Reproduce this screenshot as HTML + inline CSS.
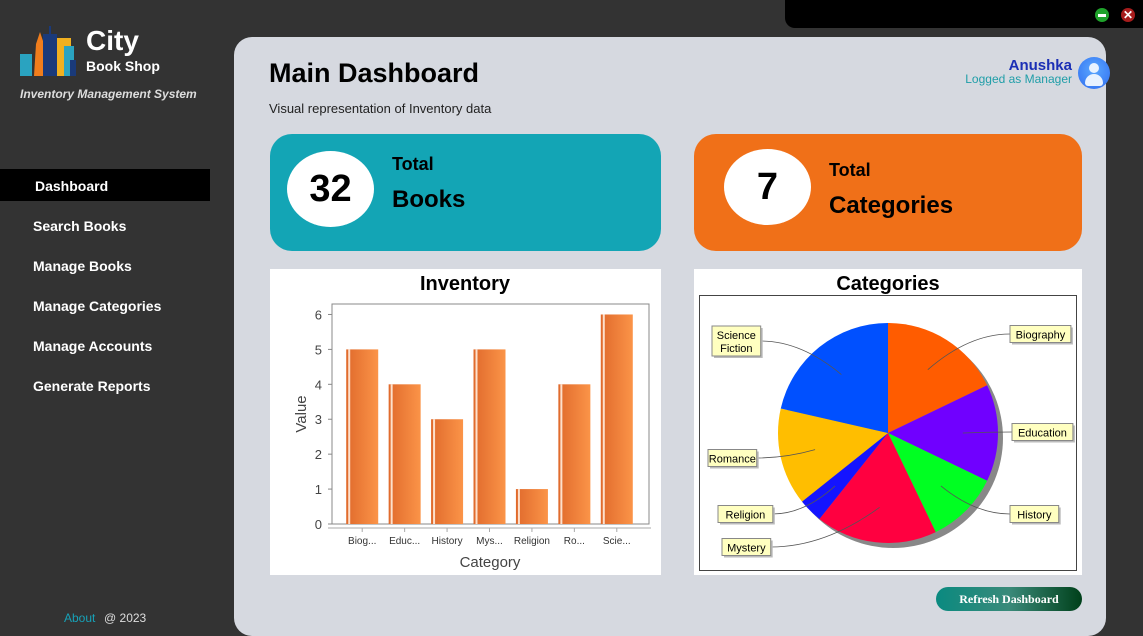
<!DOCTYPE html>
<html><head><meta charset="utf-8">
<style>
*{margin:0;padding:0;box-sizing:border-box}
body{width:1143px;height:636px;background:#333;font-family:"Liberation Sans",sans-serif;position:relative;overflow:hidden}
.abs{position:absolute}
.nav{position:absolute;left:33px;color:#fff;font-weight:bold;font-size:14px}
.card{position:absolute;border-radius:22px}
.circ{position:absolute;background:#fff;border-radius:50%;display:flex;align-items:center;justify-content:center;font-weight:900;color:#000}
</style></head><body>
<div class="abs" style="left:785px;top:0;width:358px;height:28px;background:#000;border-bottom-left-radius:10px"></div>
<div class="abs" style="left:1095px;top:8px;width:14px;height:14px;border-radius:50%;background:#1fa22b"><div style="position:absolute;left:3px;top:5.5px;width:8px;height:3px;background:#fff"></div></div>
<div class="abs" style="left:1121px;top:8px;width:14px;height:14px;border-radius:50%;background:#a61c1c;color:#fff;font-size:12px;font-weight:bold;line-height:14px;text-align:center">✕</div>

<svg class="abs" style="left:18px;top:24px" width="60" height="54">
<rect x="2" y="30" width="12" height="22" fill="#2aa3c0"/><polygon points="16,52 18,20 22,8 26,20 28,52" fill="#f07d1c"/>
<rect x="25" y="10" width="14" height="42" fill="#1a3a7a"/><rect x="31" y="2" width="2" height="8" fill="#1a3a7a"/>
<rect x="39" y="14" width="14" height="38" fill="#f0b020"/><rect x="46" y="22" width="10" height="30" fill="#2aa3c0"/><rect x="52" y="36" width="6" height="16" fill="#1a3a7a"/></svg>
<div class="abs" style="left:86px;top:25px;color:#fff;font-weight:900;font-size:28px">City</div>
<div class="abs" style="left:86px;top:58px;color:#fff;font-weight:900;font-size:14px">Book Shop</div>
<div class="abs" style="left:20px;top:87px;color:#ddd;font-style:italic;font-weight:bold;font-size:12px">Inventory Management System</div>

<div class="abs" style="left:0;top:169px;width:210px;height:32px;background:#000"></div>
<div class="nav" style="top:178px;left:35px">Dashboard</div>
<div class="nav" style="top:218px">Search Books</div>
<div class="nav" style="top:258px">Manage Books</div>
<div class="nav" style="top:298px">Manage Categories</div>
<div class="nav" style="top:338px">Manage Accounts</div>
<div class="nav" style="top:378px">Generate Reports</div>
<div class="abs" style="left:64px;top:611px;color:#17a2b8;font-size:12px">About</div>
<div class="abs" style="left:104px;top:611px;color:#ddd;font-size:12px">@ 2023</div>

<div class="abs" style="left:234px;top:37px;width:872px;height:599px;background:#d6d9e0;border-radius:18px"></div>
<div class="abs" style="left:269px;top:58px;font-size:27px;font-weight:bold;color:#000">Main Dashboard</div>
<div class="abs" style="left:269px;top:101px;font-size:13px;color:#222">Visual representation of Inventory data</div>
<div class="abs" style="right:71px;top:57px;font-size:15px;font-weight:bold;color:#1b2fb5">Anushka</div>
<div class="abs" style="right:71px;top:72px;font-size:12px;color:#1f9ea8">Logged as Manager</div>
<div class="abs" style="left:1078px;top:57px;width:32px;height:32px;border-radius:50%;background:radial-gradient(circle at 50% 40%,#5aa8ff,#2f6cf0);overflow:hidden">
<div style="position:absolute;left:11px;top:6px;width:10px;height:10px;border-radius:50%;background:#e8f2ff"></div><div style="position:absolute;left:7px;top:17px;width:18px;height:12px;border-radius:9px 9px 3px 3px;background:#e8f2ff"></div></div>

<div class="card" style="left:270px;top:134px;width:391px;height:117px;background:#13a5b5"></div>
<div class="circ" style="left:287px;top:151px;width:87px;height:76px;font-size:38px">32</div>
<div class="abs" style="left:392px;top:154px;font-size:18px;font-weight:900">Total</div>
<div class="abs" style="left:392px;top:186px;font-size:24px;font-weight:900">Books</div>
<div class="card" style="left:694px;top:134px;width:388px;height:117px;background:#f07018"></div>
<div class="circ" style="left:724px;top:149px;width:87px;height:76px;font-size:38px">7</div>
<div class="abs" style="left:829px;top:160px;font-size:18px;font-weight:900">Total</div>
<div class="abs" style="left:829px;top:192px;font-size:24px;font-weight:900">Categories</div>

<svg class="abs" id="bar" style="left:270px;top:269px" width="391" height="306"></svg>
<svg class="abs" id="pie" style="left:694px;top:269px" width="388" height="306"></svg>

<div class="abs" style="left:936px;top:587px;width:146px;height:24px;border-radius:12px;background:linear-gradient(90deg,#0a8a80,#3a8a7a 50%,#00401a);color:#fff;font-weight:bold;font-size:12px;text-align:center;line-height:24px;font-family:'Liberation Serif',serif">Refresh Dashboard</div>

<script>
const categories=["Biography","Education","History","Mystery","Religion","Romance","Science Fiction"];
const tickLabels=["Biog...","Educ...","History","Mys...","Religion","Ro...","Scie..."];
const values=[5,4,3,5,1,4,6];
const yTicks=[0,1,2,3,4,5,6];
const NS="http://www.w3.org/2000/svg";
function mk(p,t,a,txt){const e=document.createElementNS(NS,t);for(const k in a)e.setAttribute(k,a[k]);if(txt!==undefined)e.textContent=txt;p.appendChild(e);return e;}
// bar chart
const bar=document.getElementById('bar');
mk(bar,'rect',{x:0,y:0,width:391,height:306,fill:'#fff'});
const t=mk(bar,'text',{x:195,y:21,'text-anchor':'middle','font-size':20,'font-weight':'bold',fill:'#000'},'Inventory');

const px0=62,px1=379,py0=255,py1=35,ymax=6.3;
const y=v=>py0-(v/ymax)*(py0-py1);
const bs=px0+9,be=px1-11;
const band=(be-bs)/categories.length;
const x=i=>bs+band*(i+0.5);
const defs=mk(bar,'defs',{});
const g=mk(defs,'linearGradient',{id:'bg',x1:0,x2:1,y1:0,y2:0});
mk(g,'stop',{offset:0,'stop-color':'#e06a2c'});mk(g,'stop',{offset:1,'stop-color':'#fb9448'});
mk(bar,'rect',{x:px0,y:py1,width:px1-px0,height:py0-py1,fill:'#fff',stroke:'#888'});
yTicks.forEach(v=>{mk(bar,'line',{x1:px0-4,x2:px0,y1:y(v),y2:y(v),stroke:'#888'});
 const l=mk(bar,'text',{x:px0-10,y:y(v)+5,'text-anchor':'end','font-size':13,fill:'#444'},v);
 });
values.forEach((v,i)=>{const bw=32,bx=x(i)-bw/2;
 const r=mk(bar,'rect',{x:bx,y:y(v),width:bw,height:py0-y(v),fill:'url(#bg)'});
 
 mk(bar,'rect',{x:bx+2,y:y(v),width:2,height:py0-y(v),fill:'#fde0cc'});
 mk(bar,'line',{x1:x(i),x2:x(i),y1:py0+4,y2:py0+8,stroke:'#aaa'});
 const l=mk(bar,'text',{x:x(i),y:py0+20,'text-anchor':'middle','font-size':10,fill:'#333'},tickLabels[i]);
 });
mk(bar,'line',{x1:px0-4,x2:px1+2,y1:py0+4,y2:py0+4,stroke:'#aaa'});
const xt=mk(bar,'text',{x:220,y:298,'text-anchor':'middle','font-size':15,fill:'#444'},'Category');

const yt=mk(bar,'text',{x:0,y:0,'text-anchor':'middle','font-size':15,fill:'#444',transform:'translate(36,145) rotate(-90)'},'Value');

// pie chart
const pieColors=["#ff5c00","#7000ff","#00ff22","#ff0040","#1414ff","#ffbe00","#0050ff"];
const pieLabels=[["Biography"],["Education"],["History"],["Mystery"],["Religion"],["Romance"],["Science","Fiction"]];
const labelPos=[[316,65],[318,163],[316,245],[28,278],[24,245],[14,189],[18,72]];
const pie=document.getElementById('pie');
mk(pie,'rect',{x:0,y:0,width:388,height:306,fill:'#fff'});
const pt=mk(pie,'text',{x:194,y:21,'text-anchor':'middle','font-size':20,'font-weight':'bold',fill:'#000'},'Categories');

mk(pie,'rect',{x:5.5,y:26.5,width:377,height:275,fill:'#fff',stroke:'#444'});
const cx=194,cy=164,R=110;
mk(pie,'circle',{cx:cx+5,cy:cy+5,r:R,fill:'#888'});
const total=values.reduce((a,b)=>a+b,0);
let a0=0;
values.forEach((v,i)=>{const a1=a0+v/total*2*Math.PI;
 const P=a=>[cx+R*Math.sin(a),cy-R*Math.cos(a)];
 const [x0,y0]=P(a0),[x1,y1]=P(a1);
 const s=mk(pie,'path',{d:`M${cx},${cy}L${x0},${y0}A${R},${R} 0 ${a1-a0>Math.PI?1:0} 1 ${x1},${y1}Z`,fill:pieColors[i]});
 
 a0=a1;});
a0=0;
values.forEach((v,i)=>{const a1=a0+v/total*2*Math.PI;
 const am=(a0+a1)/2,ax=cx+R*0.68*Math.sin(am),ay=cy-R*0.68*Math.cos(am);
 const [lx,ly]=labelPos[i];const lines=pieLabels[i];
 const w=Math.max(...lines.map(s=>s.length))*6.1+6,h=lines.length*13+4;
 const ex=lx<cx?lx+w:lx, ey=ly;
 mk(pie,'path',{d:`M${ax},${ay}Q${(ax+ex)/2},${ey} ${ex},${ey}`,fill:'none',stroke:'#555','stroke-width':0.8});
 mk(pie,'rect',{x:lx+2,y:ly-h/2+2,width:w,height:h,fill:'#bbb'});
 const b=mk(pie,'rect',{x:lx,y:ly-h/2,width:w,height:h,fill:'#ffffc0',stroke:'#888'});
 
 lines.forEach((s,j)=>{const tx=mk(pie,'text',{x:lx+w/2,y:ly-h/2+13+j*13,'text-anchor':'middle','font-size':11,fill:'#000'},s);
  });
 a0=a1;});
</script>
</body></html>
